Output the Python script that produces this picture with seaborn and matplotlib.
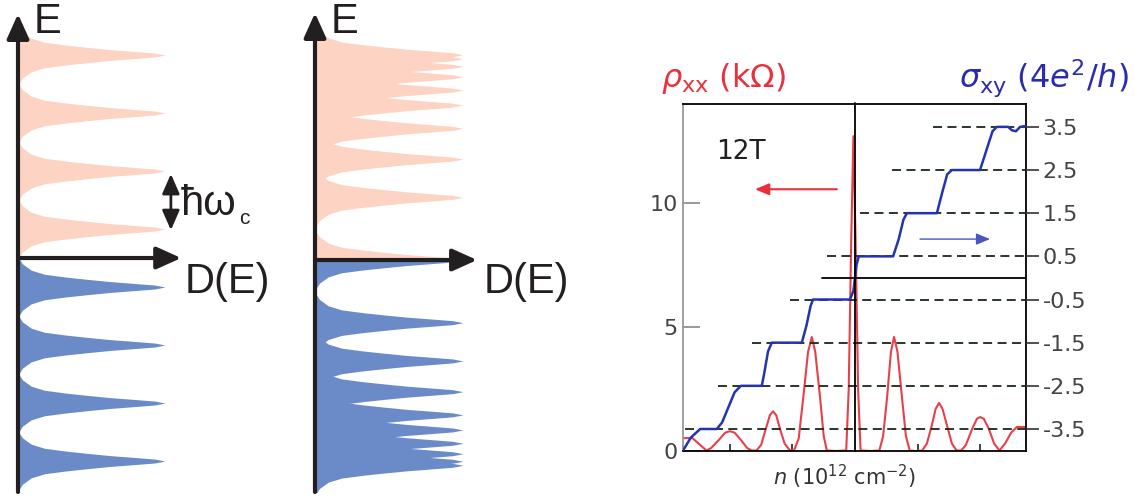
import numpy as np
import seaborn as sns
import matplotlib.pyplot as plt

# Landau level energies in units of hbar*omega_c (conventional 2DEG, then graphene)
levels_2deg = [0.5, 1.5, 2.5, 3.5]
levels_graphene = [0.0, 1.08, 1.74, 2.27, 2.67, 2.93, 3.16, 3.34, 3.47, 3.54]
# shape of one broadened level: energy offset -> D(E)
peak_offset = [0.0, 0.034, 0.06, 0.095, 0.13, 0.17, 0.22, 0.29, 0.40, 0.52]
peak_height = [1.0, 0.93, 0.80, 0.62, 0.48, 0.33, 0.18, 0.09, 0.03, 0.0]

# transport at 12 T, n in 1e12 cm^-2
n_rho = [-5.5, -5.2, -5.0, -4.75, -4.6, -4.35, -4.15, -4.0, -3.85, -3.65, -3.45,
         -3.3, -3.15, -3.0, -2.85, -2.72, -2.62, -2.52, -2.4, -2.25, -2.08,
         -1.95, -1.8, -1.65, -1.5, -1.38, -1.27, -1.12, -1.0, -0.9, -0.6,
         -0.28, -0.2, -0.12, -0.05, 0.02, 0.1, 0.18, 0.5,
         0.78, 0.9, 1.03, 1.15, 1.25, 1.36, 1.5, 1.63, 1.75, 1.95,
         2.15, 2.3, 2.45, 2.58, 2.69, 2.8, 2.95, 3.1, 3.25,
         3.4, 3.55, 3.75, 3.9, 4.0, 4.12, 4.28, 4.45, 4.62,
         4.8, 5.0, 5.18, 5.47]
rho_xx = [0.52, 0.52, 0.3, 0.02, 0.12, 0.45, 0.74, 0.8, 0.74, 0.45, 0.12,
          0.02, 0.02, 0.25, 0.9, 1.45, 1.6, 1.45, 0.9, 0.3, 0.02,
          0.02, 0.5, 2.2, 4.0, 4.6, 4.0, 2.2, 0.6, 0.02, 0.0,
          0.02, 2.5, 8.5, 12.7, 8.5, 2.5, 0.02, 0.0,
          0.02, 0.6, 2.2, 4.0, 4.6, 4.0, 2.2, 0.6, 0.02, 0.0,
          0.02, 0.3, 1.0, 1.7, 1.94, 1.7, 1.0, 0.3, 0.02,
          0.02, 0.25, 0.9, 1.3, 1.37, 1.3, 0.9, 0.3, 0.02,
          0.3, 0.75, 0.97, 0.97]
n_sigma = [-5.5, -5.25, -4.95, -4.42, -4.25, -4.05, -3.85, -3.65, -2.98, -2.9,
           -2.78, -2.66, -1.70, -1.55, -1.42, -1.34, -0.16, -0.05, 0.05, 0.12,
           1.22, 1.4, 1.55, 1.66, 2.62, 2.78, 2.95, 3.1, 4.0, 4.2, 4.4, 4.54,
           4.9, 5.02, 5.15, 5.28, 5.47]
sigma_xy = [-4.0, -3.7, -3.5, -3.5, -3.35, -3.0, -2.65, -2.5, -2.5, -2.2,
            -1.7, -1.5, -1.5, -1.1, -0.65, -0.5, -0.5, -0.3, 0.3, 0.5,
            0.5, 0.9, 1.35, 1.5, 1.5, 1.95, 2.4, 2.5, 2.5, 2.95, 3.4, 3.5,
            3.5, 3.42, 3.4, 3.5, 3.52]
plateaus = [-3.5, -2.5, -1.5, -0.5, 0.5, 1.5, 2.5, 3.5]
plateau_start = [-5.44, -4.38, -3.3, -2.08, -0.9, 0.16, 1.18, 2.5]
rho_ticks = [0, 5, 10]
sigma_ticks = [3.5, 2.5, 1.5, 0.5, -0.5, -1.5, -2.5, -3.5]
sigma_labels = ["3.5", "2.5", "1.5", "0.5", "-0.5", "-1.5", "-2.5", "-3.5"]

pink = "#fdd3c3"
blue = "#6a8bc8"
ink = "#231f20"

sns.set_style("white")
plt.rcParams["font.family"] = ["Liberation Sans", "DejaVu Sans"]
plt.rcParams["mathtext.fontset"] = "dejavusans"

W, H = 1135, 501
fig = plt.figure(figsize=(W / 100, H / 100), dpi=100)


def box(left, top, right, bottom):
    return [left / W, (H - bottom) / H, (right - left) / W, (bottom - top) / H]


def draw_level(ax, e0, sign, color):
    off = np.array(peak_offset)
    h = np.array(peak_height)
    if sign == 0:
        e = np.concatenate([e0 - off[::-1], e0 + off[1:]])
        d = np.concatenate([h[::-1], h[1:]])
    else:
        e = e0 + sign * off
        d = h
    ax.fill_betweenx(e, 0, d, color=color, lw=0)


def dos_axes(ax, ytop, ybot, xtip):
    ax.set_xlim(0, 1)
    ax.set_ylim(ybot, ytop)
    ax.axis("off")
    arrow = dict(arrowstyle="-|>,head_length=1.0,head_width=0.45", lw=3,
                 color=ink, shrinkA=0, shrinkB=0, mutation_scale=15)
    ax.annotate("", xy=(0, ytop), xytext=(0, ybot), arrowprops=arrow,
                annotation_clip=False)
    ax.annotate("", xy=(xtip, 0), xytext=(0, 0), arrowprops=arrow,
                annotation_clip=False)


# conventional 2DEG
ax_a = fig.add_axes(box(18, 14, 165, 492))
for e in levels_2deg:
    draw_level(ax_a, e, 0, pink)
    draw_level(ax_a, -e, 0, blue)
dos_axes(ax_a, 4.207, -4.034, 1.11)
ax_a.annotate("", xy=(1.04, 1.45), xytext=(1.04, 0.48),
              arrowprops=dict(arrowstyle="<|-|>,head_length=0.8,head_width=0.35",
                              lw=2.0, color=ink, shrinkA=0, shrinkB=0,
                              mutation_scale=15),
              annotation_clip=False)
fig.text(181 / W, 1 - 204 / H, "ħω", fontsize=30, color=ink,
         ha="left", va="center")
fig.text(239 / W, 1 - 219 / H, "c", fontsize=15, color=ink,
         ha="left", va="center")
fig.text(34 / W, 1 - 22 / H, "E", fontsize=30, color=ink, ha="left", va="center")
fig.text(185 / W, 1 - 282 / H, "D(E)", fontsize=30, color=ink, ha="left",
         va="center")

# graphene
ax_b = fig.add_axes(box(315, 13, 463, 492))
for e in levels_graphene[1:]:
    draw_level(ax_b, e, 0, pink)
    draw_level(ax_b, -e, 0, blue)
draw_level(ax_b, 0.0, 1, pink)
draw_level(ax_b, 0.0, -1, blue)
dos_axes(ax_b, 4.259, -4.0, 1.095)
fig.text(331 / W, 1 - 22 / H, "E", fontsize=30, color=ink, ha="left", va="center")
fig.text(484 / W, 1 - 282 / H, "D(E)", fontsize=30, color=ink, ha="left",
         va="center")

# transport
ax_r = fig.add_axes(box(683, 104, 1026, 451))
ax_s = ax_r.twinx()
sns.lineplot(x=n_rho, y=rho_xx, ax=ax_r, color="#e8404a", lw=1.5,
             estimator=None, sort=False)
for lev, start in zip(plateaus, plateau_start):
    ax_s.plot([start, 5.47], [lev, lev], color="#182818", lw=1.3,
              dashes=(5, 3), zorder=1)
ax_s.plot([-1.06, 5.47], [0, 0], color="black", lw=1.3, zorder=1)
sns.lineplot(x=n_sigma, y=sigma_xy, ax=ax_s, color="#2433b0", lw=1.8,
             estimator=None, sort=False, zorder=3)
ax_s.axvline(0, ymin=0, ymax=1.004, color="black", lw=1.3, clip_on=False,
             zorder=4)

ax_r.set_xlim(-5.5, 5.47)
ax_r.set_ylim(0, 14.0)
ax_s.set_ylim(-4.01, 4.03)
ax_r.set_yticks(rho_ticks)
ax_r.set_yticklabels([str(t) for t in rho_ticks], family="DejaVu Sans")
ax_s.set_yticks(sigma_ticks)
ax_s.set_yticklabels(sigma_labels, family="DejaVu Sans")
ax_r.set_xticks([-4, -2, 2, 4])
ax_r.set_xticklabels([])
ax_r.tick_params(axis="y", direction="in", length=12, width=1.2, color="#888888",
                 labelsize=16, labelcolor="#444444", pad=4, left=True)
ax_r.tick_params(axis="x", direction="in", length=5, width=1.2, color=ink,
                 bottom=True)
ax_s.tick_params(axis="y", direction="out", length=9, width=1.2, color="#333333",
                 labelsize=16, labelcolor="#444444", pad=3, right=True)
for name, sp in ax_r.spines.items():
    sp.set_visible(True)
    sp.set_color("black")
    sp.set_linewidth(1.3)
ax_r.spines["left"].set_color("#999999")
for sp in ax_s.spines.values():
    sp.set_visible(False)
ax_r.set_xlabel("")
ax_r.set_ylabel("")
ax_s.set_ylabel("")
fig.text(845 / W, 1 - 477 / H, r"$n$ (10$^{12}$ cm$^{-2}$)", fontsize=15,
         color="#333333", ha="center", va="center", family="DejaVu Sans")

ax_r.text(-4.45, 12.05, "12T", fontsize=19, color=ink, ha="left", va="center",
          family="DejaVu Sans")
ax_r.annotate("", xy=(-3.2, 10.56), xytext=(-0.58, 10.56),
              arrowprops=dict(arrowstyle="-|>,head_length=0.6,head_width=0.25",
                              lw=1.5, color="#e8303a", shrinkA=0, shrinkB=0,
                              mutation_scale=14))
ax_s.annotate("", xy=(4.32, 0.9), xytext=(2.08, 0.9),
              arrowprops=dict(arrowstyle="-|>,head_length=0.6,head_width=0.25",
                              lw=1.0, color="#4a56c0", shrinkA=0, shrinkB=0,
                              mutation_scale=14))

fig.text(661 / W, 1 - 78 / H, r"$\rho_{\rm xx}$ (k$\Omega$)", fontsize=23,
         color="#e8313c", ha="left", va="center", family="DejaVu Sans")
fig.text(1129 / W, 1 - 78 / H, r"$\sigma_{\rm xy}$ (4$e^{2}$/$h$)", fontsize=23,
         color="#2b2bb0", ha="right", va="center", family="DejaVu Sans")

fig.savefig("out.png", dpi=100)
